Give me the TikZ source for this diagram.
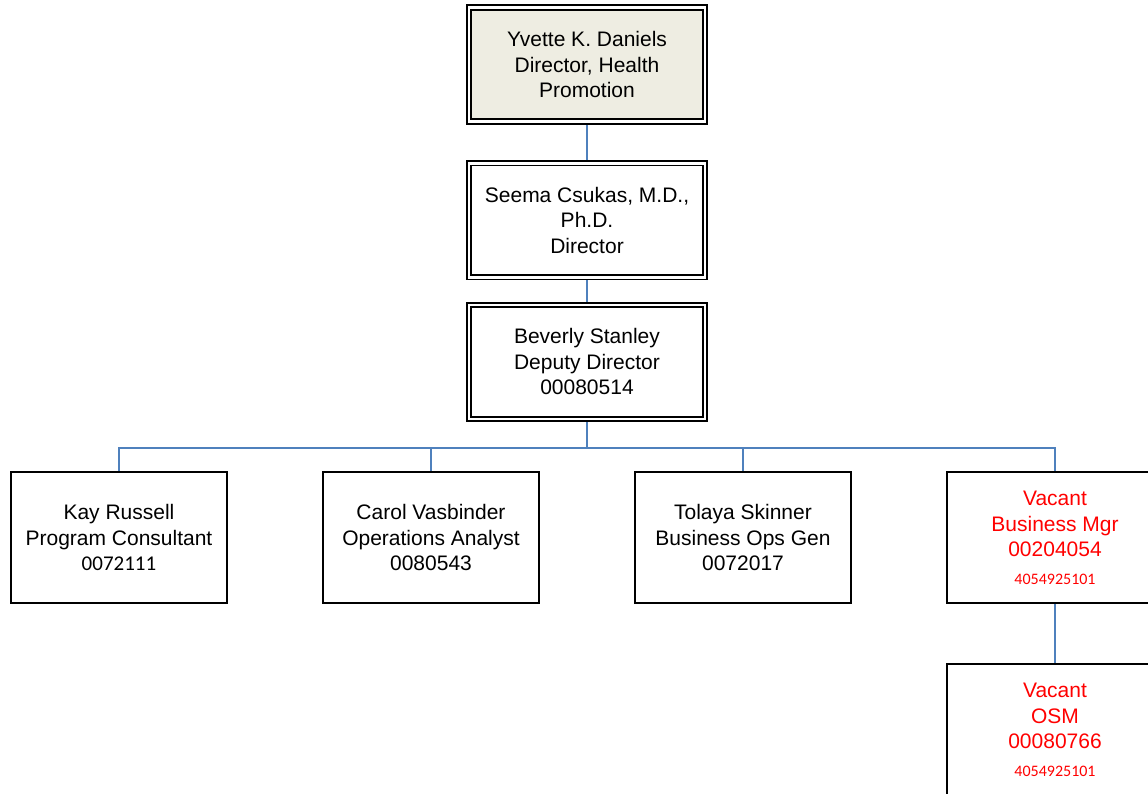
\documentclass[tikz,border=0pt]{standalone}
\usepackage{fontspec}
\setmainfont{Liberation Sans}
\newfontfamily\carl{Carlito}
\definecolor{topfill}{RGB}{238,237,226}
\definecolor{conn}{RGB}{79,129,189}
\definecolor{vred}{RGB}{255,0,0}
\pgfdeclarelayer{bg}
\pgfsetlayers{bg,main}
\begin{document}
\begin{tikzpicture}[x=1pt,y=1pt,
  dbox/.style={draw=black, line width=1.9pt, double=white, double distance=2.4pt,
    fill=white, minimum width=235.7pt, minimum height=114pt, inner sep=0pt,
    align=center, font=\fontsize{21}{25.5}\selectfont},
  cbox/.style={draw=black, line width=1.9pt, fill=white, minimum width=215.5pt,
    minimum height=131pt, inner sep=0pt, align=center,
    font=\fontsize{21}{25.5}\selectfont},
  vacant/.style={cbox, text=vred},
  link/.style={draw=conn, line width=1.6pt},
  buslink/.style={draw=conn, line width=2pt}]
\useasboundingbox (0,0) rectangle (1148,-794);
\node[dbox, fill=topfill] (b1) at (587,-64.5) {Yvette K. Daniels\\Director, Health\\Promotion};
\node[dbox] (b2) at (587,-220.4) {Seema Csukas, M.D.,\\Ph.D.\\Director};
\node[dbox] (b3) at (587,-361.7) {Beverly Stanley\\Deputy Director\\00080514};
\node[cbox] (c1) at (119,-537.8) {Kay Russell\\Program Consultant\\{\carl 0072111}};
\node[cbox] (c2) at (431,-537.8) {Carol Vasbinder\\Operations Analyst\\0080543};
\node[cbox] (c3) at (743,-537.8) {Tolaya Skinner\\Business Ops Gen\\0072017};
\node[vacant] (c4) at (1055,-537.8) {Vacant\\Business Mgr\\00204054\\[2pt]{\carl\fontsize{16}{20}\selectfont 4054925101}};
\node[vacant] (c5) at (1055,-729.8) {Vacant\\OSM\\00080766\\[2pt]{\carl\fontsize{16}{20}\selectfont 4054925101}};
\coordinate (bus) at (587,-447.5);
\begin{pgfonlayer}{bg}
\draw[link] (b1.south) -- (b2.north);
\draw[link] (b2.south) -- (b3.north);
\draw[link] (b3.south) -- (bus);
\draw[buslink] (c1.north) |- (bus) -| (c4.north);
\draw[link] (c2.north) -- (c2.north |- bus);
\draw[link] (c3.north) -- (c3.north |- bus);
\draw[link] (c4.south) -- (c5.north);
\end{pgfonlayer}
\end{tikzpicture}
\end{document}
